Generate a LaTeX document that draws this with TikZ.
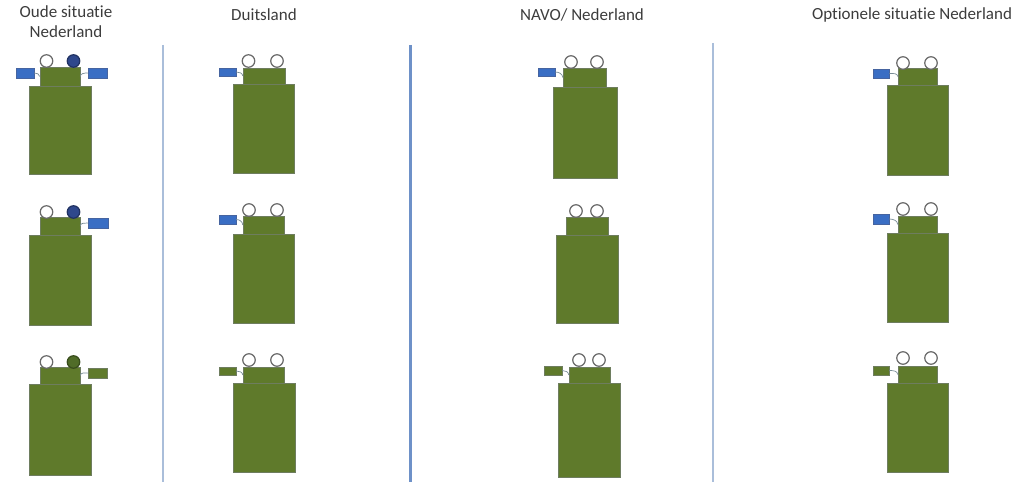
\documentclass[tikz,border=0pt]{standalone}
\usepackage{fontspec}
\setmainfont{Carlito}[Ligatures=NoCommon]
\usetikzlibrary{fit}
\definecolor{olive}{RGB}{95,122,43}
\definecolor{oliveline}{RGB}{110,125,95}
\definecolor{tabblue}{RGB}{58,110,196}
\definecolor{tabline}{RGB}{70,100,160}
\definecolor{darkblue}{RGB}{47,72,140}
\definecolor{darkgreen}{RGB}{80,108,40}
\definecolor{ringgray}{RGB}{105,105,105}
\definecolor{hookgray}{RGB}{120,140,150}
\definecolor{thindiv}{RGB}{170,190,218}
\definecolor{thickdiv}{RGB}{110,145,200}
\definecolor{txt}{RGB}{60,60,60}
\tikzset{
  gbox/.style={fill=olive, draw=oliveline, line width=0.6bp, inner sep=0pt},
  btab/.style={fill=tabblue, draw=tabline, line width=0.5bp, inner sep=0pt},
  gtab/.style={fill=olive, draw=oliveline, line width=0.5bp, inner sep=0pt},
  ring/.style={circle, draw=ringgray, fill=white, line width=1.2bp, minimum size=12.5bp, inner sep=0pt},
  bring/.style={ring, fill=darkblue, draw=darkblue!70!black},
  gring/.style={ring, fill=darkgreen, draw=darkgreen!70!black},
  hook/.style={draw=hookgray, line width=0.7bp},
  head/.style={text=txt, font=\fontsize{17bp}{20bp}\selectfont, align=center, inner sep=0pt},
  thin/.style={draw=thindiv, line width=1.6bp},
  thick/.style={draw=thickdiv, line width=3bp}
}
\begin{document}
\begin{tikzpicture}[x=1bp, y=-1bp]
\useasboundingbox (0,0) rectangle (1024,482);
% headers
\node[head] (h1) at (66,22) {Oude situatie\\Nederland};
\node[head] (h2) at (264,15) {Duitsland};
\node[head] (h3) at (582,15) {NAVO/ Nederland};
\node[head] (h4) at (912,15) {Optionele situatie Nederland};
% dividers
\coordinate (d1a) at (163,45); \coordinate (d1b) at (163,482);
\coordinate (d2a) at (410,45); \coordinate (d2b) at (410,482);
\coordinate (d3a) at (713,43); \coordinate (d3b) at (713,482);
\draw[thin] (d1a) -- (d1b);
\draw[thick] (d2a) -- (d2b);
\draw[thin] (d3a) -- (d3b);

% ===== Column 1: Oude situatie Nederland =====
% row 1
\node[gbox, fit={(29,86) (91,174)}] (b11) {};
\node[gbox, fit={(40,67) (80,86)}] (t11) {};
\node[ring] (c11a) at (46.5,61) {};
\node[bring] (c11b) at (73.5,61) {};
\node[btab, fit={(16,68) (34,78)}] (l11) {};
\node[btab, fit={(88,68) (107,78)}] (r11) {};
\draw[hook] (l11.east) to[out=0,in=90] (t11.west);
\draw[hook] (t11.east) to[out=90,in=180] (r11.west);
% row 2
\node[gbox, fit={(29,235) (91,325)}] (b12) {};
\node[gbox, fit={(40,217) (80,235)}] (t12) {};
\node[ring] (c12a) at (46.5,212) {};
\node[bring] (c12b) at (73.5,212) {};
\node[btab, fit={(88,218) (108,228)}] (r12) {};
\draw[hook] (t12.east) to[out=90,in=180] (r12.west);
% row 3
\node[gbox, fit={(29,384) (91,475)}] (b13) {};
\node[gbox, fit={(40,367) (80,384)}] (t13) {};
\node[ring] (c13a) at (46.5,362) {};
\node[gring] (c13b) at (73.5,362) {};
\node[gtab, fit={(88,368) (107,378)}] (r13) {};
\draw[hook] (t13.east) to[out=90,in=180] (r13.west);

% ===== Column 2: Duitsland =====
% row 1
\node[gbox, fit={(233,84) (294,173)}] (b21) {};
\node[gbox, fit={(243,68) (285,84)}] (t21) {};
\node[ring] (c21a) at (248.5,61) {};
\node[ring] (c21b) at (277,61) {};
\node[btab, fit={(219,68) (236,76)}] (l21) {};
\draw[hook] (l21.east) to[out=0,in=90] (t21.west);
% row 2
\node[gbox, fit={(233,234) (294,323)}] (b22) {};
\node[gbox, fit={(243,216) (284,234)}] (t22) {};
\node[ring] (c22a) at (249,210) {};
\node[ring] (c22b) at (277,210) {};
\node[btab, fit={(219,215) (236,224)}] (l22) {};
\draw[hook] (l22.east) to[out=0,in=90] (t22.west);
% row 3
\node[gbox, fit={(233,383) (295,472)}] (b23) {};
\node[gbox, fit={(243,367) (284,383)}] (t23) {};
\node[ring] (c23a) at (249,360) {};
\node[ring] (c23b) at (277,360) {};
\node[gtab, fit={(219,367) (236,375)}] (l23) {};
\draw[hook] (l23.east) to[out=0,in=90] (t23.west);

% ===== Column 3: NAVO/ Nederland =====
% row 1
\node[gbox, fit={(553,87) (617,178)}] (b31) {};
\node[gbox, fit={(563,68) (606,87)}] (t31) {};
\node[ring] (c31a) at (571,62) {};
\node[ring] (c31b) at (597,62) {};
\node[btab, fit={(538,68) (555,76)}] (l31) {};
\draw[hook] (l31.east) to[out=0,in=90] (t31.west);
% row 2
\node[gbox, fit={(556,235) (618,323)}] (b32) {};
\node[gbox, fit={(566,217) (608,235)}] (t32) {};
\node[ring] (c32a) at (576,211) {};
\node[ring] (c32b) at (597,211) {};
% row 3
\node[gbox, fit={(558,383) (620,477)}] (b33) {};
\node[gbox, fit={(569,367) (610,383)}] (t33) {};
\node[ring] (c33a) at (579,360) {};
\node[ring] (c33b) at (599,360) {};
\node[gtab, fit={(544,366) (562,375)}] (l33) {};
\draw[hook] (l33.east) to[out=0,in=90] (t33.west);

% ===== Column 4: Optionele situatie Nederland =====
% row 1
\node[gbox, fit={(887,85) (948,175)}] (b41) {};
\node[gbox, fit={(898,68) (937,85)}] (t41) {};
\node[ring] (c41a) at (903,63) {};
\node[ring] (c41b) at (931,63) {};
\node[btab, fit={(873,69) (889,78)}] (l41) {};
\draw[hook] (l41.east) to[out=0,in=90] (t41.west);
% row 2
\node[gbox, fit={(887,233) (948,322)}] (b42) {};
\node[gbox, fit={(898,216) (937,233)}] (t42) {};
\node[ring] (c42a) at (903,209) {};
\node[ring] (c42b) at (931,209) {};
\node[btab, fit={(873,214) (889,224)}] (l42) {};
\draw[hook] (l42.east) to[out=0,in=90] (t42.west);
% row 3
\node[gbox, fit={(887,383) (948,472)}] (b43) {};
\node[gbox, fit={(898,366) (937,383)}] (t43) {};
\node[ring] (c43a) at (903,358) {};
\node[ring] (c43b) at (931,358) {};
\node[gtab, fit={(873,366) (889,375)}] (l43) {};
\draw[hook] (l43.east) to[out=0,in=90] (t43.west);
\end{tikzpicture}
\end{document}
